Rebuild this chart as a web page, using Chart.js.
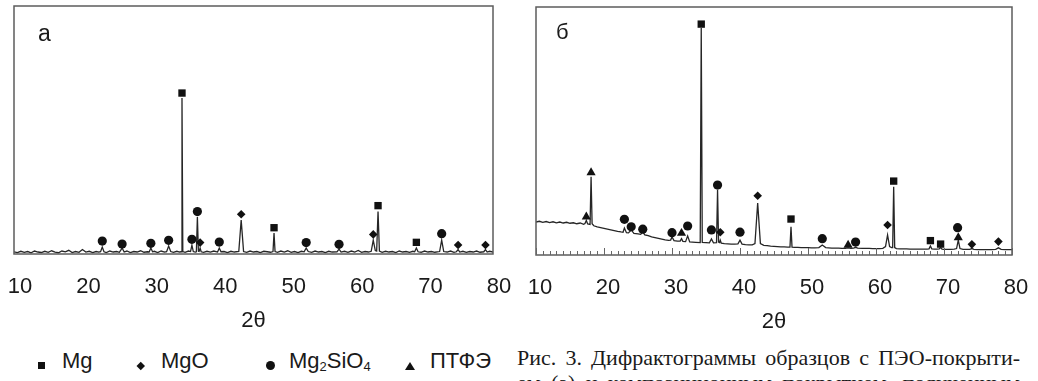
<!DOCTYPE html>
<html>
<head>
<meta charset="utf-8">
<script src="https://cdn.jsdelivr.net/npm/chart.js@4.4.1/dist/chart.umd.min.js"></script>
<style>
  html, body { margin: 0; padding: 0; background: #fff; }
  body { position: relative; width: 1038px; height: 381px; overflow: hidden;
         font-family: "Liberation Sans", Arial, sans-serif; color: #1a1a1a; }
  canvas { position: absolute; top: 0; }
  #chartA { left: 0; }
  #chartB { left: 515px; }
  .tag { position: absolute; line-height: 23px; font-size: 23px; }
  .leg { position: absolute; top: 350px; font-size: 22px; line-height: 22px; white-space: nowrap; }
  .leg sub { font-size: 13px; vertical-align: -3px; line-height: 0; }
  .sym { position: absolute; background: #111; }
  .sq { width: 7px; height: 7px; }
  .dia { width: 5.5px; height: 5.5px; transform: rotate(45deg); }
  .dot { width: 9px; height: 9px; border-radius: 50%; }
  .tri { width: 0; height: 0; background: none; border-left: 5px solid transparent;
         border-right: 5px solid transparent; border-bottom: 8px solid #111; }
  .cap { position: absolute; left: 517px; width: 503px; font-family: "Liberation Serif", "Times New Roman", serif;
         font-size: 22px; line-height: 25px; text-align: justify; text-align-last: justify; white-space: nowrap; }
</style>
</head>
<body>
<canvas id="chartA" width="515" height="334"></canvas>
<canvas id="chartB" width="523" height="335"></canvas>

<div class="tag" style="left:38px; top:22px;">а</div>
<div class="tag" style="left:556px; top:20px; font-size:22px;">б</div>

<div class="sym sq" style="left:38px; top:362px;"></div>
<div class="leg" style="left:62px;">Mg</div>
<div class="sym dia" style="left:137.5px; top:362.5px;"></div>
<div class="leg" style="left:161px;">MgO</div>
<div class="sym dot" style="left:266px; top:361px;"></div>
<div class="leg" style="left:289px;">Mg<sub>2</sub>SiO<sub>4</sub></div>
<div class="sym tri" style="left:405px; top:362px;"></div>
<div class="leg" style="left:430px;">ПТФЭ</div>

<div class="cap" style="top:345px;">Рис. 3. Дифрактограммы образцов с ПЭО-покрыти-</div>
<div class="cap" style="top:370px;">ем (а) и композиционным покрытием, полученным</div>

<script>
// (а) ПЭО-покрытие: [2θ, интенсивность]
const scanA = [
  [10,0.9],[10.5,0.6],[11,1.1],[11.5,0.7],[12,1.0],[12.5,0.5],[13,1.2],[13.5,0.8],[14,0.6],[14.5,1.1],
  [15,0.7],[15.5,1.3],[16,0.8],[16.5,0.5],[17,1.2],[17.5,0.9],[18,1.5],[18.5,0.6],[19,1.0],[19.5,0.7],
  [20,1.8],[20.5,0.8],[21,1.1],[21.5,0.6],[22,1.0],[22.4,0.8],[22.65,0.9],[22.9,2.8],[23.15,0.9],
  [23.5,0.6],[24,1.2],[24.5,0.8],[25,1.0],[25.4,0.7],[25.8,2.4],[26.1,0.8],[26.5,1.2],[27,0.6],
  [27.5,1.0],[28,0.8],[28.5,1.3],[29,0.7],[29.5,0.9],[29.75,0.8],[30,2.4],[30.25,0.9],[30.5,1.1],
  [31,0.6],[31.5,1.2],[32,0.8],[32.3,0.9],[32.6,3.2],[32.9,1.0],[33.3,0.7],[33.8,1.1],[34.2,0.8],
  [34.43,0.9],[34.55,62.9],[34.67,1.0],[35,0.7],[35.5,1.2],[35.8,1.0],[36,3.6],[36.2,1.0],[36.5,0.8],
  [36.65,0.9],[36.8,14.9],[36.95,1.1],[37.05,1.0],[37.2,2.4],[37.35,0.9],[37.7,0.7],[38.2,1.1],
  [38.7,0.8],[39.2,1.2],[39.75,0.8],[40,2.4],[40.25,0.9],[40.7,1.0],[41.2,0.6],[41.7,1.1],[42.2,0.8],
  [42.85,1.0],[43.2,13.7],[43.55,1.0],[44,0.7],[44.5,1.2],[45,0.8],[45.5,1.0],[46,0.6],[46.5,1.1],
  [47,0.9],[47.5,0.7],[47.85,1.0],[48,8.5],[48.15,1.0],[48.5,0.7],[49,1.2],[49.5,0.8],[50,1.3],
  [50.5,0.7],[51,1.0],[51.5,0.6],[52,1.1],[52.4,0.9],[52.7,2.4],[53,1.0],[53.5,0.7],[54,1.2],
  [54.5,0.8],[55,1.0],[55.5,0.6],[56,1.1],[56.5,0.8],[57.2,0.9],[57.5,2.0],[57.8,0.8],[58.3,1.1],
  [58.8,0.7],[59.3,1.2],[59.8,0.8],[60.3,1.4],[60.8,0.7],[61.3,1.0],[61.8,0.8],[62.2,1.1],[62.5,5.6],
  [62.8,1.4],[63.0,1.2],[63.2,17.1],[63.4,1.2],[63.8,0.7],[64.3,1.1],[64.8,0.8],[65.3,1.0],[65.8,0.6],
  [66.3,1.2],[66.8,0.8],[67.3,1.0],[67.8,0.7],[68.3,1.1],[68.55,0.9],[68.8,2.4],[69.05,0.9],[69.5,0.7],
  [70,1.2],[70.5,0.8],[71,1.0],[71.5,0.7],[72.2,1.0],[72.5,5.6],[72.8,1.0],[73.3,0.8],[73.8,1.2],
  [74.3,0.7],[74.65,0.9],[74.9,1.8],[75.15,0.8],[75.6,1.1],[76.1,0.7],[76.6,1.0],[77.1,0.8],[77.6,1.2],
  [78.1,0.7],[78.65,0.9],[78.9,1.8],[79.15,0.8],[79.5,1.1],[80,0.8]
];

// (б) композиционное покрытие
const scanB = [
  [10,13.3],[10.5,13.6],[11,13.2],[11.5,13.5],[12,13.1],[12.5,13.4],[13,13.0],[13.5,13.3],[14,12.9],
  [14.5,13.2],[15,12.8],[15.5,13.0],[16,12.6],[16.5,12.9],[17,12.4],[17.2,12.7],[17.4,13.9],[17.6,12.5],
  [17.95,12.3],[18.1,31.5],[18.25,12.6],[18.5,11.8],[19,11.3],[19.5,11.0],[20,10.7],[20.5,10.4],[21,10.1],
  [21.5,9.8],[22,9.5],[22.5,9.3],[22.8,9.2],[23.0,10.9],[23.3,9.0],[23.6,8.9],[24.0,10.1],[24.4,8.7],
  [25,8.5],[25.4,8.3],[25.7,9.3],[26.0,8.1],[26.5,7.8],[27,7.3],[27.5,7.0],[28,6.7],[28.5,6.4],[29,6.1],
  [29.5,5.9],[29.8,6.0],[30,7.3],[30.3,5.8],[30.8,5.6],[31.2,5.6],[31.4,6.6],[31.6,5.5],[32.0,5.4],
  [32.3,7.7],[32.6,5.3],[33,5.2],[33.5,5.1],[34.15,5.0],[34.3,91.5],[34.45,5.1],[35,5.0],[35.5,4.9],
  [35.8,6.5],[36.1,4.9],[36.55,5.0],[36.7,26.2],[36.85,5.2],[37.0,5.0],[37.1,6.0],[37.25,4.8],[37.7,4.6],
  [38.2,4.5],[38.7,4.4],[39.2,4.4],[39.7,4.5],[40.0,6.0],[40.3,4.4],[40.8,4.2],[41.3,4.1],[41.8,4.1],
  [42.2,4.6],[42.6,21.0],[43.0,4.6],[43.5,3.9],[44,3.8],[44.5,3.6],[45,3.5],[45.5,3.4],[46,3.3],
  [46.5,3.3],[47,3.2],[47.35,3.2],[47.5,11.4],[47.65,3.2],[48,3.1],[48.5,3.1],[49,3.0],[49.5,3.0],
  [50,3.0],[50.5,2.9],[51,2.9],[51.6,3.0],[52.1,4.0],[52.6,3.0],[53,2.9],[53.5,2.8],[54,2.8],[54.5,2.8],
  [55,2.7],[55.5,2.7],[55.9,2.9],[56.3,2.7],[56.7,2.8],[57.0,3.1],[57.3,2.8],[58,2.7],[58.5,2.7],
  [59,2.7],[59.5,2.6],[60,2.6],[60.5,2.6],[61,2.7],[61.4,3.4],[61.7,8.1],[62.0,3.4],[62.3,3.0],
  [62.45,3.0],[62.6,27.5],[62.75,3.0],[63,2.6],[63.5,2.5],[64,2.5],[64.5,2.5],[65,2.4],[65.5,2.4],
  [66,2.4],[66.5,2.4],[67,2.4],[67.5,2.4],[67.8,2.5],[68.0,3.6],[68.2,2.5],[68.6,2.4],[69.0,2.4],
  [69.3,2.5],[69.5,3.0],[69.7,2.4],[70,2.3],[70.5,2.3],[71,2.3],[71.5,2.4],[71.85,2.6],[72.1,6.0],
  [72.35,2.6],[72.8,2.3],[73.3,2.3],[73.8,2.3],[74.1,2.6],[74.4,2.3],[75,2.2],[75.5,2.2],[76,2.2],
  [76.5,2.2],[77,2.2],[77.6,2.3],[78.0,2.9],[78.4,2.3],[79,2.2],[79.5,2.2],[80,2.2]
];

// метки фаз над пиками
const mgA   = [[34.55,64.9],[48.0,10.6],[63.2,19.5],[68.8,4.7]];
const mgoA  = [[37.2,4.6],[43.2,16.0],[62.5,7.9],[74.9,3.6],[78.9,3.6]];
const silA  = [[22.9,5.2],[25.8,4.0],[30.0,4.3],[32.6,5.5],[36.0,5.9],[36.8,17.1],[40.0,4.8],[52.7,4.6],[57.5,3.9],[72.5,8.2]];

const mgB   = [[34.3,93.1],[47.5,14.5],[62.6,29.8],[68.0,5.8],[69.5,4.4]];
const mgoB  = [[37.1,9.2],[42.6,23.9],[61.7,12.1],[74.1,4.3],[78.0,5.4]];
const silB  = [[23.0,14.4],[24.0,11.4],[25.7,10.4],[30.0,9.0],[32.3,11.7],[35.8,10.1],[36.7,28.2],[40.0,9.2],[52.1,6.6],[57.0,5.2],[72.0,11.0]];
const ptfeB = [[17.4,15.4],[18.1,33.2],[31.4,8.8],[55.9,4.0],[72.1,7.0]];

const toXY = p => ({ x: p[0], y: p[1] });

// рамка вокруг области графика
const frame = {
  id: 'frame',
  afterDatasetsDraw(chart) {
    const { ctx, chartArea: a } = chart;
    ctx.save();
    ctx.strokeStyle = '#5c5c5c';
    ctx.lineWidth = 1.5;
    ctx.strokeRect(a.left, a.top, a.right - a.left, a.bottom - a.top);
    ctx.restore();
  }
};

// мелкие засечки внутрь по оси 2θ
const innerTicks = {
  id: 'innerTicks',
  afterDatasetsDraw(chart) {
    const { ctx, chartArea: a, scales: { x } } = chart;
    ctx.save();
    ctx.strokeStyle = '#666';
    ctx.lineWidth = 1;
    for (let v = x.min; v <= x.max; v++) {
      const px = Math.round(x.getPixelForValue(v)) + 0.5;
      const len = v % 10 === 0 ? 7 : 4;
      ctx.beginPath();
      ctx.moveTo(px, a.bottom);
      ctx.lineTo(px, a.bottom - len);
      ctx.stroke();
    }
    ctx.restore();
  }
};

function marks(pts, style, r) {
  return {
    data: pts.map(toXY), showLine: false, pointStyle: style, pointRadius: r,
    pointBackgroundColor: '#111', pointBorderColor: '#111', pointBorderWidth: 0
  };
}

function xrdChart(id, scan, markSets, pad, shift, plugins) {
  return new Chart(document.getElementById(id), {
    type: 'scatter',
    data: {
      datasets: markSets.concat([{
        data: scan.map(toXY), showLine: true, borderColor: '#262626',
        borderWidth: 1.3, pointRadius: 0, tension: 0
      }])
    },
    options: {
      responsive: false,
      animation: false,
      devicePixelRatio: 1,
      events: [],
      layout: { padding: pad },
      plugins: { legend: { display: false }, tooltip: { enabled: false } },
      scales: {
        x: {
          type: 'linear', min: 10, max: 80,
          // невидимые засечки только опускают подписи
          grid: { display: true, drawOnChartArea: false, drawTicks: true, tickLength: 20, tickColor: 'rgba(0,0,0,0)' },
          border: { display: false },
          ticks: {
            stepSize: 10, padding: 0, labelOffset: shift, color: '#1a1a1a',
            font: { family: '"Liberation Sans", Arial, sans-serif', size: 22 }
          },
          title: {
            display: true, text: '2θ', color: '#1a1a1a', padding: { top: 0, bottom: 0 },
            font: { family: '"Liberation Sans", Arial, sans-serif', size: 22 }
          },
          afterFit: s => { s.height = 80; }
        },
        y: { display: false, min: 0, max: 100 }
      }
    },
    plugins: plugins
  });
}

xrdChart('chartA', scanA, [
  marks(mgA, 'rect', 5.2),
  marks(mgoA, 'rectRot', 4.3),
  marks(silA, 'circle', 4.6)
], { left: 14, right: 22, top: 6, bottom: 0 }, 6, [frame]);

xrdChart('chartB', scanB, [
  marks(mgB, 'rect', 5.2),
  marks(mgoB, 'rectRot', 4.3),
  marks(silB, 'circle', 4.6),
  marks(ptfeB, 'triangle', 5.3)
], { left: 21, right: 26, top: 7, bottom: 0 }, 4, [frame, innerTicks]);
</script>
</body>
</html>
